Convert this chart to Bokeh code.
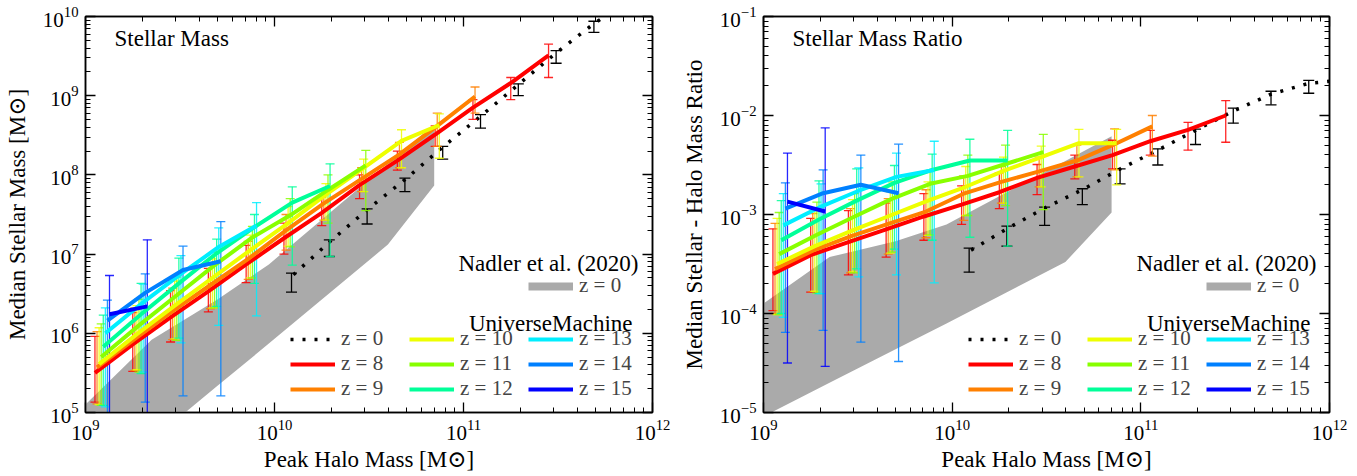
from bokeh.plotting import figure
from bokeh.layouts import row
from bokeh.models import (Range1d, LogAxis, FixedTicker, Legend, LegendItem, Label,
                          ColumnDataSource, CustomJSTickFormatter)
from bokeh.embed import file_html
from bokeh.resources import INLINE

# ---------------- data (log10 values) ----------------
redshifts = [8, 9, 10, 11, 12, 13, 14, 15]
# log10 peak halo mass bin centres
bins_logm = [9.05, 9.25, 9.45, 9.65, 9.85, 10.05, 10.25, 10.45, 10.65, 10.85, 11.05, 11.25, 11.45]
# horizontal shift (dex) of each redshift's points in the original figure
z_shift = [0.000, 0.011, 0.022, 0.033, 0.044, 0.055, 0.066, 0.077]

# ---- left panel: log10 median stellar mass, 16th / 84th percentiles
sm_med_z8 = [5.50, 5.86, 6.20, 6.53, 6.87, 7.20, 7.52, 7.87, 8.18, 8.51, 8.85, 9.16, 9.51]
sm_lo_z8 = [5.13, 5.52, 5.89, 6.27, 6.64, 7.00, 7.36, 7.70, 8.06, 8.36, 8.70, 8.95, 9.23]
sm_hi_z8 = [5.96, 6.26, 6.54, 6.82, 7.11, 7.39, 7.72, 8.00, 8.30, 8.62, 8.95, 9.23, 9.65]
sm_med_z9 = [5.57, 5.93, 6.28, 6.61, 6.94, 7.30, 7.64, 7.95, 8.26, 8.62, 8.99]
sm_lo_z9 = [5.11, 5.53, 5.92, 6.31, 6.68, 7.05, 7.43, 7.79, 8.09, 8.36, 8.78]
sm_hi_z9 = [6.02, 6.32, 6.57, 6.87, 7.16, 7.50, 7.80, 8.09, 8.41, 8.78, 9.11]
sm_med_z10 = [5.61, 5.99, 6.35, 6.70, 7.05, 7.39, 7.75, 8.09, 8.43, 8.63]
sm_lo_z10 = [5.10, 5.54, 5.93, 6.32, 6.70, 7.10, 7.43, 7.79, 8.09, 8.21]
sm_hi_z10 = [6.07, 6.35, 6.66, 6.94, 7.24, 7.60, 7.89, 8.20, 8.57, 8.77]
sm_med_z11 = [5.70, 6.10, 6.48, 6.86, 7.21, 7.49, 7.81, 8.12]
sm_lo_z11 = [5.09, 5.51, 5.91, 6.32, 6.70, 7.09, 7.39, 7.55]
sm_hi_z11 = [6.12, 6.43, 6.71, 7.03, 7.35, 7.70, 8.00, 8.31]
sm_med_z12 = [5.83, 6.24, 6.63, 7.01, 7.34, 7.65, 7.86]
sm_lo_z12 = [5.09, 5.49, 5.94, 6.34, 6.63, 6.86, 6.97]
sm_hi_z12 = [6.23, 6.63, 6.95, 7.19, 7.50, 7.85, 8.14]
sm_med_z13 = [6.00, 6.39, 6.75, 7.09, 7.36]
sm_lo_z13 = [5.07, 5.51, 5.88, 6.10, 6.22]
sm_hi_z13 = [6.32, 6.62, 6.98, 7.33, 7.65]
sm_med_z14 = [6.16, 6.51, 6.80, 6.91]
sm_lo_z14 = [4.91, 5.13, 5.21, 5.21]
sm_hi_z14 = [6.42, 6.75, 7.10, 7.41]
sm_med_z15 = [6.24, 6.34]
sm_lo_z15 = [4.61, 4.77]
sm_hi_z15 = [6.73, 7.18]

# ---- right panel: log10 median stellar-to-halo mass ratio, percentiles
ratio_med_z8 = [-3.60, -3.41, -3.28, -3.15, -3.02, -2.90, -2.775, -2.63, -2.515, -2.40, -2.26, -2.145, -2.00]
ratio_lo_z8 = [-3.97, -3.785, -3.61, -3.43, -3.26, -3.10, -2.94, -2.80, -2.64, -2.54, -2.40, -2.35, -2.27]
ratio_hi_z8 = [-3.145, -3.04, -2.96, -2.885, -2.79, -2.71, -2.58, -2.495, -2.40, -2.25, -2.15, -2.07, -1.85]
ratio_med_z9 = [-3.55, -3.365, -3.22, -3.095, -2.97, -2.79, -2.67, -2.565, -2.455, -2.29, -2.11]
ratio_lo_z9 = [-4.00, -3.78, -3.59, -3.40, -3.235, -3.06, -2.885, -2.72, -2.62, -2.55, -2.41]
ratio_hi_z9 = [-3.09, -2.99, -2.94, -2.84, -2.75, -2.61, -2.515, -2.42, -2.30, -2.135, -2.00]
ratio_med_z10 = [-3.50, -3.32, -3.16, -3.01, -2.86, -2.72, -2.56, -2.42, -2.28, -2.28]
ratio_lo_z10 = [-4.01, -3.775, -3.58, -3.39, -3.21, -3.01, -2.885, -2.72, -2.62, -2.70]
ratio_hi_z10 = [-3.04, -2.96, -2.85, -2.77, -2.67, -2.515, -2.42, -2.31, -2.14, -2.14]
ratio_med_z11 = [-3.40, -3.205, -3.02, -2.84, -2.69, -2.61, -2.49, -2.37]
ratio_lo_z11 = [-4.01, -3.795, -3.59, -3.38, -3.205, -3.01, -2.91, -2.95]
ratio_hi_z11 = [-2.98, -2.875, -2.79, -2.67, -2.555, -2.40, -2.30, -2.19]
ratio_med_z12 = [-3.26, -3.05, -2.86, -2.68, -2.55, -2.455, -2.455]
ratio_lo_z12 = [-4.00, -3.80, -3.55, -3.35, -3.26, -3.23, -3.32]
ratio_hi_z12 = [-2.86, -2.66, -2.54, -2.505, -2.39, -2.24, -2.15]
ratio_med_z13 = [-3.11, -2.92, -2.76, -2.62, -2.55]
ratio_lo_z13 = [-4.04, -3.80, -3.63, -3.61, -3.69]
ratio_hi_z13 = [-2.79, -2.69, -2.53, -2.38, -2.26]
ratio_med_z14 = [-2.94, -2.785, -2.70, -2.785]
ratio_lo_z14 = [-4.19, -4.17, -4.29, -4.485]
ratio_hi_z14 = [-2.68, -2.55, -2.40, -2.29]
ratio_med_z15 = [-2.87, -2.97]
ratio_lo_z15 = [-4.50, -4.535]
ratio_hi_z15 = [-2.38, -2.125]

# ---- z = 0 UniverseMachine (dotted line + black error bars)
z0_bar_logm = [10.09, 10.29, 10.49, 10.69, 10.89, 11.09, 11.29, 11.49, 11.69, 11.89]
sm_z0_lo = [6.52, 6.97, 7.38, 7.79, 8.20, 8.59, 9.00, 9.41, 9.80, 10.12]
sm_z0_hi = [6.76, 7.18, 7.57, 7.96, 8.36, 8.76, 9.15, 9.57, 9.94, 10.25]
ratio_z0_lo = [-3.583, -3.32, -3.11, -2.90, -2.69, -2.50, -2.293, -2.078, -1.892, -1.775]
ratio_z0_hi = [-3.34, -3.118, -2.926, -2.74, -2.54, -2.337, -2.138, -1.926, -1.755, -1.646]
z0_line_logm = [10.10, 10.29, 10.49, 10.69, 10.89, 11.09, 11.29, 11.49, 11.69, 11.89, 12.0]
sm_z0_line = [6.74, 7.15, 7.56, 7.94, 8.35, 8.74, 9.14, 9.54, 9.91, 10.22, 10.35]
ratio_z0_line = [-3.36, -3.145, -2.935, -2.75, -2.54, -2.35, -2.15, -1.955, -1.785, -1.675, -1.655]

# ---- Nadler et al. (2020) z = 0 band
band_logm = [9.0, 9.35, 9.7, 9.97, 10.6, 10.845]
sm_band_lo = [3.96, 4.65, 5.34, 5.87, 7.12, 7.865]
sm_band_hi = [5.10, 5.92, 6.43, 6.87, 8.14, 8.635]
ratio_band_lo = [-5.04, -4.70, -4.36, -4.10, -3.48, -2.98]
ratio_band_hi = [-3.90, -3.43, -3.27, -3.10, -2.46, -2.21]

legend_labels = ["z = 0"] + [f"z = {z}" for z in redshifts]

# ---------------- styling ----------------
FONT = "Liberation Serif, DejaVu Serif, serif"
COLORS = ["#ff0000", "#ff8000", "#eeff00", "#88ff00", "#00ff99", "#00eeff", "#0080ff", "#0000ff"]
BAND = "#aaaaaa"

sm_sets = {
    8: (sm_med_z8, sm_lo_z8, sm_hi_z8), 9: (sm_med_z9, sm_lo_z9, sm_hi_z9),
    10: (sm_med_z10, sm_lo_z10, sm_hi_z10), 11: (sm_med_z11, sm_lo_z11, sm_hi_z11),
    12: (sm_med_z12, sm_lo_z12, sm_hi_z12), 13: (sm_med_z13, sm_lo_z13, sm_hi_z13),
    14: (sm_med_z14, sm_lo_z14, sm_hi_z14), 15: (sm_med_z15, sm_lo_z15, sm_hi_z15),
}
ratio_sets = {
    8: (ratio_med_z8, ratio_lo_z8, ratio_hi_z8), 9: (ratio_med_z9, ratio_lo_z9, ratio_hi_z9),
    10: (ratio_med_z10, ratio_lo_z10, ratio_hi_z10), 11: (ratio_med_z11, ratio_lo_z11, ratio_hi_z11),
    12: (ratio_med_z12, ratio_lo_z12, ratio_hi_z12), 13: (ratio_med_z13, ratio_lo_z13, ratio_hi_z13),
    14: (ratio_med_z14, ratio_lo_z14, ratio_hi_z14), 15: (ratio_med_z15, ratio_lo_z15, ratio_hi_z15),
}


def lin(vals):
    return [10.0 ** v for v in vals]


def make_panel(exp_lo, exp_hi, border_left, border_right, frame_w, ylabel, title,
               sets, z0_lo, z0_hi, z0_line, band_lo, band_hi):
    p = figure(x_axis_type="log", y_axis_type="log",
               x_range=Range1d(1e9, 1e12), y_range=Range1d(10.0 ** exp_lo, 10.0 ** exp_hi),
               frame_width=frame_w, frame_height=396,
               min_border_left=border_left, min_border_right=border_right,
               min_border_top=16, min_border_bottom=64,
               output_backend="svg", toolbar_location=None)
    p.xgrid.visible = False
    p.ygrid.visible = False
    p.outline_line_color = "black"
    p.outline_line_width = 1.5
    p.background_fill_color = "white"
    p.border_fill_color = "white"

    xt = FixedTicker(ticks=[1e9, 1e10, 1e11, 1e12],
                     minor_ticks=[m * 10.0 ** e for e in range(9, 12) for m in range(2, 10)])
    yt = FixedTicker(ticks=[10.0 ** e for e in range(exp_lo, exp_hi + 1)],
                     minor_ticks=[m * 10.0 ** e for e in range(exp_lo, exp_hi) for m in range(2, 10)])
    p.xaxis.ticker = xt
    p.yaxis.ticker = yt
    p.xaxis.axis_label = "Peak Halo Mass [M\u2299]"
    p.yaxis.axis_label = ylabel

    def style(ax):
        ax.major_tick_in = 10
        ax.major_tick_out = 0
        ax.minor_tick_in = 5
        ax.minor_tick_out = 0
        ax.axis_line_width = 1.5
        ax.major_tick_line_width = 1.3
        ax.minor_tick_line_width = 1.0
        ax.major_label_text_font = FONT
        ax.major_label_text_font_size = "21px"
        ax.major_label_text_color = "black"
        ax.major_label_standoff = 7
        ax.axis_label_text_font = FONT
        ax.axis_label_text_font_size = "23px"
        ax.axis_label_text_font_style = "normal"
        ax.axis_label_text_color = "black"

    for ax in p.xaxis:
        style(ax)
        ax.axis_label_standoff = 4
    for ax in p.yaxis:
        style(ax)
        ax.axis_label_standoff = 10

    blank = CustomJSTickFormatter(code="return ''")
    top = LogAxis(ticker=xt, formatter=blank)
    right = LogAxis(ticker=yt, formatter=blank)
    for ax in (top, right):
        style(ax)
        ax.major_label_text_font_size = "0px"
        ax.major_label_standoff = 0
    p.add_layout(top, "above")
    p.add_layout(right, "right")

    # Nadler et al. band
    p.varea(x=lin(band_logm), y1=lin(band_lo), y2=lin(band_hi), fill_color=BAND, fill_alpha=1.0)

    # z = 0 UniverseMachine
    src0 = ColumnDataSource(dict(x=lin(z0_bar_logm), lo=lin(z0_lo), hi=lin(z0_hi)))
    p.segment(x0="x", y0="lo", x1="x", y1="hi", source=src0, line_color="black", line_width=1.3)
    p.scatter(x="x", y="lo", source=src0, marker="dash", size=11, line_color="black", line_width=1.3)
    p.scatter(x="x", y="hi", source=src0, marker="dash", size=11, line_color="black", line_width=1.3)
    r0 = p.line(x=lin(z0_line_logm), y=lin(z0_line), line_color="black", line_width=3.5,
                line_dash="3 9")

    # high-z error bars
    for i, z in enumerate(redshifts):
        med, lo, hi = sets[z]
        xs = [10.0 ** (b + z_shift[i]) for b in bins_logm[:len(med)]]
        src = ColumnDataSource(dict(x=xs, lo=lin(lo), hi=lin(hi)))
        c = COLORS[i]
        p.segment(x0="x", y0="lo", x1="x", y1="hi", source=src, line_color=c, line_width=1.3,
                  line_alpha=0.85)
        p.scatter(x="x", y="lo", source=src, marker="dash", size=9, line_color=c, line_width=1.3,
                  line_alpha=0.85)
        p.scatter(x="x", y="hi", source=src, marker="dash", size=9, line_color=c, line_width=1.3,
                  line_alpha=0.85)

    # high-z median lines
    line_r = []
    for i, z in enumerate(redshifts):
        med, lo, hi = sets[z]
        xs = [10.0 ** (b + z_shift[i]) for b in bins_logm[:len(med)]]
        line_r.append(p.line(x=xs, y=lin(med), line_color=COLORS[i], line_width=4))

    # legend key for the band: a one-point line (draws nothing in the plot) styled as the key
    band_key = p.line(x=lin(band_logm[:1]), y=lin(band_hi[:1]), line_color=BAND, line_width=8)

    leg_kw = dict(glyph_width=45, glyph_height=20, label_height=20, label_standoff=6,
                  spacing=0, padding=0, margin=0, border_line_color=None,
                  background_fill_alpha=0, label_text_font=FONT, label_text_font_size="21px")

    nad = Legend(items=[LegendItem(label="z = 0", renderers=[band_key])],
                 location=(443, 114), **leg_kw)
    p.add_layout(nad)

    um_items = [LegendItem(label=legend_labels[0], renderers=[r0])]
    um_items += [LegendItem(label=legend_labels[i + 1], renderers=[line_r[i]])
                 for i in range(len(redshifts))]
    um = Legend(items=um_items, location=(205, 11), orientation="vertical", nrows=3,
                label_width=68, **leg_kw)
    p.add_layout(um)

    txt = dict(x_units="screen", y_units="screen", text_font=FONT, text_color="black",
               text_baseline="alphabetic")
    p.add_layout(Label(x=29, y=374, text=title, text_font_size="23px", **txt))
    p.add_layout(Label(x=553, y=149, text="Nadler et al. (2020)", text_align="right",
                       text_font_size="23px", **txt))
    p.add_layout(Label(x=547, y=89, text="UniverseMachine", text_align="right",
                       text_font_size="23px", **txt))
    return p


p1 = make_panel(5, 10, 85, 26, 567, "Median Stellar Mass [M\u2299]", "Stellar Mass",
                sm_sets, sm_z0_lo, sm_z0_hi, sm_z0_line, sm_band_lo, sm_band_hi)
p2 = make_panel(-5, -1, 79, 34, 566, "Median Stellar - Halo Mass Ratio", "Stellar Mass Ratio",
                ratio_sets, ratio_z0_lo, ratio_z0_hi, ratio_z0_line, ratio_band_lo, ratio_band_hi)

layout = row(p1, p2)
open("out.html", "w").write(file_html(layout, INLINE))
